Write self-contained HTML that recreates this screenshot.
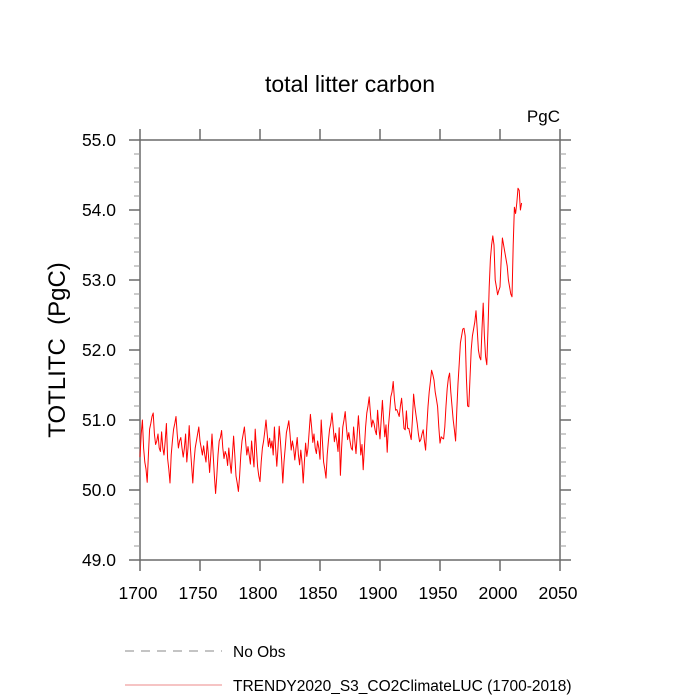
<!DOCTYPE html>
<html><head><meta charset="utf-8"><style>
html,body{margin:0;padding:0;background:#fff;}
svg{display:block;font-family:"Liberation Sans",sans-serif;}
</style></head><body>
<svg id="chart" width="700" height="700" viewBox="0 0 700 700">
<text x="350" y="92" text-anchor="middle" font-size="23">total litter carbon</text>
<text x="560" y="122" text-anchor="end" font-size="17">PgC</text>
<text transform="translate(65,350) rotate(-90)" text-anchor="middle" font-size="24" style="white-space:pre">TOTLITC  (PgC)</text>
<g id="axes"></g>
<g id="series"></g>
<line x1="125" y1="651" x2="222" y2="651" stroke="#888" stroke-width="1" stroke-dasharray="9,7"/>
<text x="233" y="657" font-size="15.5">No Obs</text>
<line x1="125" y1="685" x2="222" y2="685" stroke="#e88" stroke-width="1"/>
<text x="233" y="691" font-size="15.5">TRENDY2020_S3_CO2ClimateLUC (1700-2018)</text>
</svg>
<script>
const startYear = 1700;
const xTicks = [1700,1750,1800,1850,1900,1950,2000,2050];
const yTicks = [49.0,50.0,51.0,52.0,53.0,54.0,55.0];
const litterValues = [
50.47,50.8,51.0,50.6,50.4,50.3,50.11,50.5,50.87,50.95,
51.05,51.1,50.8,50.65,50.7,50.8,50.6,50.55,50.83,50.6,
50.5,50.7,50.95,50.45,50.3,50.1,50.5,50.7,50.87,50.95,
51.05,50.8,50.6,50.7,50.75,50.6,50.47,50.6,50.8,50.4,
50.6,50.92,50.6,50.35,50.1,50.4,50.6,50.7,50.8,50.9,
50.7,50.6,50.5,50.63,50.5,50.4,50.7,50.5,50.25,50.5,
50.8,50.5,50.2,49.95,50.2,50.5,50.7,50.75,50.85,50.6,
50.45,50.55,50.5,50.35,50.6,50.4,50.24,50.5,50.77,50.5,
50.2,50.1,49.98,50.2,50.5,50.7,50.8,50.9,50.7,50.5,
50.62,50.5,50.37,50.7,50.5,50.33,50.87,50.6,50.33,50.2,
50.12,50.4,50.6,50.7,50.84,51.0,50.8,50.62,50.74,50.6,
50.7,50.5,50.9,50.6,50.34,50.6,50.91,50.7,50.44,50.1,
50.4,50.6,50.82,50.9,50.99,50.8,50.57,50.7,50.6,50.43,
50.6,50.75,50.5,50.36,50.57,50.4,50.1,50.4,50.67,50.48,
50.6,50.84,51.08,50.9,50.68,50.8,50.6,50.52,50.7,50.6,
50.44,51.0,50.7,50.4,50.3,50.17,50.5,50.7,50.87,50.95,
51.1,50.9,50.69,50.81,50.7,50.55,50.89,50.21,50.6,50.9,
51.0,51.12,50.9,50.72,50.82,50.7,50.6,50.57,50.9,50.7,
50.52,50.8,51.06,50.8,50.5,50.65,50.29,50.6,50.9,51.1,
51.2,51.33,51.1,50.9,51.0,50.95,50.85,50.79,51.14,50.9,
50.73,51.0,51.28,51.0,50.76,50.93,50.54,50.9,51.1,51.33,
51.4,51.55,51.3,51.14,51.15,51.1,51.05,51.2,51.31,51.1,
50.88,50.86,51.13,50.88,50.88,50.8,50.72,51.0,51.37,51.2,
51.07,50.95,50.8,50.69,50.72,50.8,50.86,50.7,50.57,50.9,
51.19,51.4,51.55,51.71,51.65,51.57,51.4,51.3,51.19,50.9,
50.67,50.76,50.74,50.73,50.9,51.2,51.45,51.6,51.67,51.4,
51.2,51.0,50.86,50.7,51.14,51.52,51.8,52.1,52.2,52.3,
52.31,52.2,51.6,51.2,51.19,51.6,52.0,52.2,52.3,52.4,
52.56,52.3,52.0,51.9,51.86,52.3,52.67,52.2,51.9,51.79,
52.3,52.9,53.3,53.5,53.63,53.5,53.0,52.9,52.79,52.85,
52.9,53.3,53.6,53.5,53.4,53.3,53.2,53.0,52.9,52.8,
52.76,53.5,54.04,53.95,54.1,54.31,54.28,54.0,54.1
];
const X0=140,X1=560,Y0=140,Y1=560;
const xMin=1700,xMax=2050,yMin=49,yMax=55;
function xs(v){return X0+(v-xMin)/(xMax-xMin)*(X1-X0);}
function ys(v){return Y1-(v-yMin)/(yMax-yMin)*(Y1-Y0);}
const NS="http://www.w3.org/2000/svg";
const axes=document.getElementById('axes');
function mk(tag,attrs,parent){const e=document.createElementNS(NS,tag);for(const k in attrs)e.setAttribute(k,attrs[k]);parent.appendChild(e);return e;}
const tc='#6a6a6a';
const frame=mk('rect',{x:X0,y:Y0,width:X1-X0,height:Y1-Y0,fill:'none',stroke:tc,'stroke-width':1.5},axes);


xTicks.forEach(yr=>{
  const x=xs(yr);const L=11;
  const t1=mk('line',{x1:x,x2:x,y1:Y1,y2:Y1+L,stroke:tc,'stroke-width':1.5},axes);
  
  
  const t2=mk('line',{x1:x,x2:x,y1:Y0,y2:Y0-L,stroke:tc,'stroke-width':1.5},axes);
  
  
});
for(let i=0;i<=30;i++){
  const v=yMin+i*0.2;const major=(i%5===0);const L=major?11:6;const y=ys(v);
  const w=major?1.5:1;const c=major?tc:'#999';
  const t1=mk('line',{x1:X0,x2:X0-L,y1:y,y2:y,stroke:c,'stroke-width':w},axes);
  
  
  const t2=mk('line',{x1:X1,x2:X1+L,y1:y,y2:y,stroke:c,'stroke-width':w},axes);
  
  
}
xTicks.forEach(v=>{
  const t=mk('text',{x:xs(v)-2,y:Y1+39,'text-anchor':'middle','font-size':17.5},axes);
  t.textContent=v;
  
  
});
yTicks.forEach(v=>{
  const t=mk('text',{x:X0-24,y:ys(v)+6,'text-anchor':'end','font-size':17.5},axes);
  t.textContent=v.toFixed(1);
  
  
});
const pts=litterValues.map((v,i)=>xs(startYear+i).toFixed(2)+','+ys(v).toFixed(2)).join(' ');
const line=mk('polyline',{points:pts,fill:'none',stroke:'#ff0000','stroke-width':1,'stroke-linejoin':'round'},document.getElementById('series'));


</script>
</body></html>
